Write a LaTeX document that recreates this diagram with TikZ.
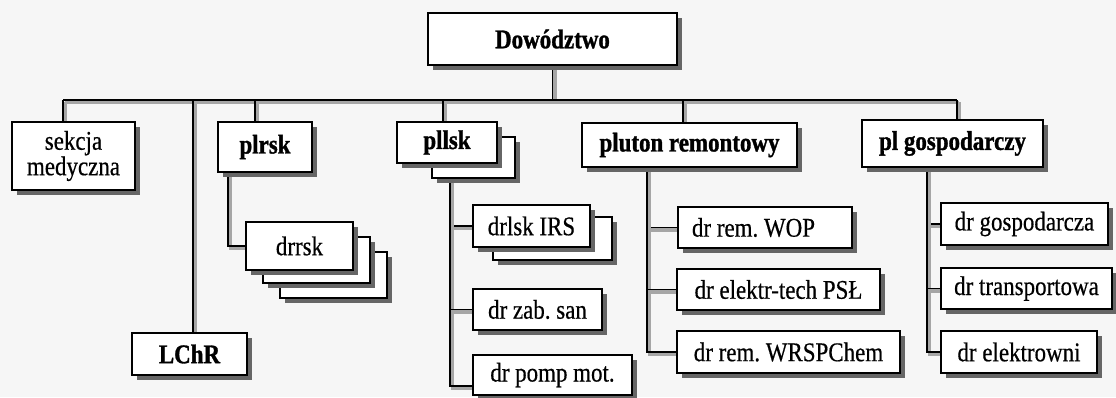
\documentclass[tikz,border=0pt]{standalone}
\usepackage{fontspec}
\setmainfont{Liberation Serif}[FakeStretch=0.85, UprightFeatures={FakeBold=0.5}, BoldFeatures={FakeBold=1.2}]
\usetikzlibrary{shadows}
\pgfdeclarelayer{bg}
\pgfdeclarelayer{lines}
\pgfsetlayers{bg,lines,main}
\frenchspacing
\tikzset{
  obox/.style={draw=black, line width=1.7pt, fill=white, inner sep=0pt,
    font=\fontsize{27}{22}\selectfont\frenchspacing, align=center,
    drop shadow={shadow xshift=4.5pt, shadow yshift=-4.5pt, fill=black!60, opacity=1}},
  bbox/.style={obox, font=\fontsize{27}{22}\selectfont\bfseries},
  conn/.style={line width=1.3pt, black,
    preaction={draw=black!35, line width=3.2pt, transform canvas={shift={(2.4pt,-2.4pt)}}}}
}
\begin{document}
\begin{tikzpicture}[x=1pt,y=-1pt]
\useasboundingbox (0,0) rectangle (1116,397);
\begin{pgfonlayer}{bg}
\fill[gray!7] (0,0) rectangle (1116,397);
\end{pgfonlayer}
% top
\node[bbox, minimum width=249pt, minimum height=52pt] (dow) at (552.5,39) {Dowództwo};
\coordinate (busL) at (63,100);
\coordinate (busR) at (957,100);
% first level
\node[obox, minimum width=123pt, minimum height=68pt] (sek) at (73.5,156) {sekcja\\medyczna};
\node[bbox, minimum width=94pt, minimum height=50pt] (plrsk) at (265,147) {plrsk};
\node[obox, minimum width=83pt, minimum height=41pt] (pllskB) at (473.5,157.5) {};
\node[bbox, minimum width=100pt, minimum height=41pt] (pllsk) at (447,142.5) {pllsk};
\node[bbox, minimum width=215pt, minimum height=44pt] (plut) at (689.5,145) {pluton remontowy};
\node[bbox, minimum width=181pt, minimum height=47pt] (gosp) at (952.5,143.5) {pl gospodarczy};
\node[bbox, minimum width=115pt, minimum height=42pt] (lchr) at (189.5,354) {LChR};
% drrsk stack
\node[obox, minimum width=107pt, minimum height=46pt] (drrskC) at (333.5,275) {};
\node[obox, minimum width=107pt, minimum height=46pt] (drrskB) at (316.5,260) {};
\node[obox, minimum width=107pt, minimum height=48pt] (drrsk) at (299.5,246) {drrsk};
% pllsk children
\node[obox, minimum width=119pt, minimum height=43pt] (drlskB) at (552.5,238.5) {};
\node[obox, minimum width=117pt, minimum height=42pt] (drlsk) at (531.5,226) {drlsk IRS};
\node[obox, minimum width=129pt, minimum height=41pt] (zab) at (537.5,309.5) {dr zab. san};
\node[obox, minimum width=159pt, minimum height=40pt] (pomp) at (552.5,375) {dr pomp mot.};
% pluton children
\node[obox, minimum width=174pt, minimum height=41pt] (wop) at (765,227.5) {\makebox[146pt][l]{dr rem. WOP}};
\node[obox, minimum width=203pt, minimum height=41pt] (elek) at (778.5,289.5) {dr elektr-tech PSŁ};
\node[obox, minimum width=223pt, minimum height=42pt] (wrsp) at (788.5,352) {dr rem. WRSPChem};
% gospodarczy children
\node[obox, minimum width=167pt, minimum height=42pt] (gcz) at (1024.5,224) {dr gospodarcza};
\node[obox, minimum width=171pt, minimum height=41pt] (tra) at (1026.5,288.5) {dr transportowa};
\node[obox, minimum width=156pt, minimum height=42pt] (ele) at (1019,352) {dr elektrowni};
% connectors
\begin{pgfonlayer}{lines}
\draw[conn] (dow.south) -- (dow.south |- busL);
\draw[conn] (busL) -- (busR);
\draw[conn] (busL) -- (busL |- sek.north);
\draw[conn] ([xshift=-10pt]plrsk.north) -- ([xshift=-10pt]plrsk.north |- busL);
\draw[conn] ([xshift=-4pt]pllsk.north) -- ([xshift=-4pt]pllsk.north |- busL);
\draw[conn] ([xshift=-6.5pt]plut.north) -- ([xshift=-6.5pt]plut.north |- busL);
\draw[conn] (busR) -- (busR |- gosp.north);
\draw[conn] ([xshift=3.5pt]lchr.north) -- ([xshift=3.5pt]lchr.north |- busL);
\draw[conn] ([xshift=-37pt]plrsk.south) |- (drrsk.west);
\draw[conn] ([xshift=-23.5pt]pllskB.south) |- ([yshift=-11pt]pomp.west);
\draw[conn] ([xshift=-23.5pt]pllskB.south) |- (drlsk.west);
\draw[conn] ([xshift=-23.5pt]pllskB.south) |- (zab.west);
\draw[conn] ([xshift=-42.5pt]plut.south) |- (wrsp.west);
\draw[conn] ([xshift=-42.5pt]plut.south) |- (wop.west);
\draw[conn] ([xshift=-42.5pt]plut.south) |- (elek.west);
\draw[conn] ([xshift=-25.5pt]gosp.south) |- (ele.west);
\draw[conn] ([xshift=-25.5pt]gosp.south) |- (gcz.west);
\draw[conn] ([xshift=-25.5pt]gosp.south) |- (tra.west);
\end{pgfonlayer}
\end{tikzpicture}
\end{document}
